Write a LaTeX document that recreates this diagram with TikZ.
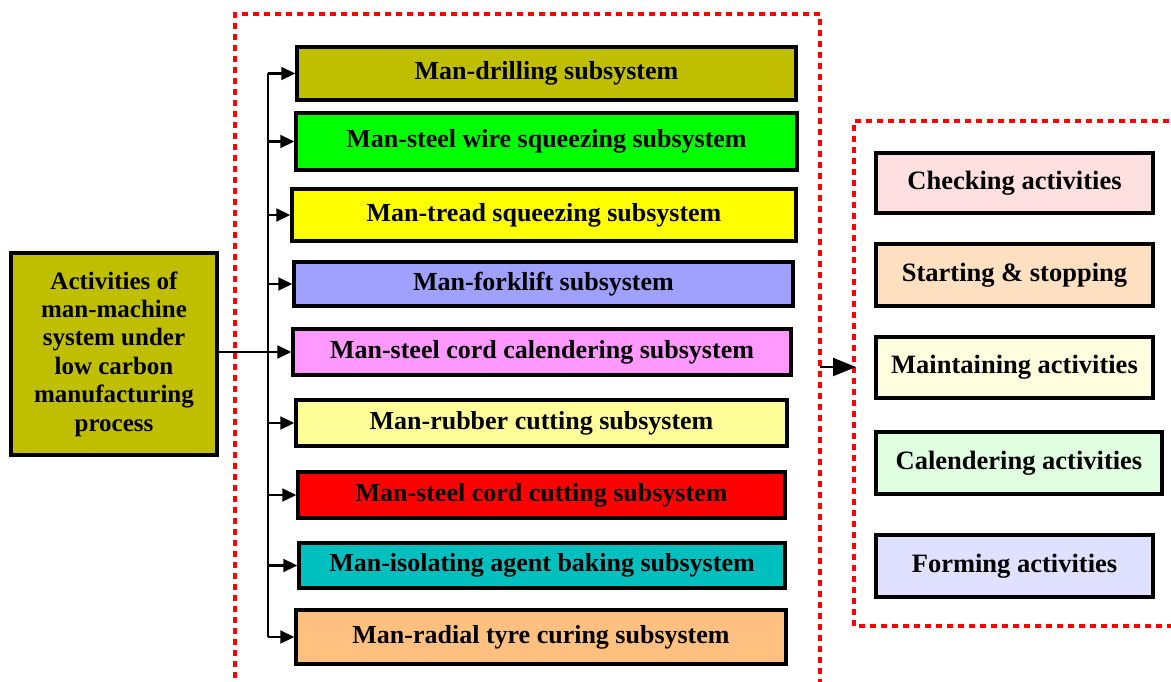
\documentclass[tikz,border=0pt]{standalone}
\usepackage{fontspec}
\setmainfont{Liberation Serif}
\usetikzlibrary{arrows.meta}
\definecolor{olivebox}{HTML}{BFBF00}
\definecolor{greenbox}{HTML}{00FF00}
\definecolor{yellowbox}{HTML}{FFFF00}
\definecolor{bluebox}{HTML}{A0A0FF}
\definecolor{pinkbox}{HTML}{FF99FF}
\definecolor{lyellowbox}{HTML}{FFFF99}
\definecolor{redbox}{HTML}{FF0000}
\definecolor{tealbox}{HTML}{00BFBF}
\definecolor{orangebox}{HTML}{FFC080}
\definecolor{checkbox}{HTML}{FFE0E0}
\definecolor{startbox}{HTML}{FFE0C0}
\definecolor{maintbox}{HTML}{FFFFE0}
\definecolor{calbox}{HTML}{E0FFE0}
\definecolor{formbox}{HTML}{E0E0FF}
\begin{document}
\begin{tikzpicture}[x=1pt,y=-1pt,
  sub/.style={draw=black,line width=3.5pt,inner sep=0pt,font=\fontsize{26}{30}\selectfont\bfseries},
  act/.style={draw=black,line width=3.5pt,inner sep=0pt,font=\fontsize{26.5}{30}\selectfont\bfseries},
  conn/.style={line width=2.2pt,-{Triangle[length=14pt,width=13pt]}},
  bigconn/.style={line width=2.2pt,-{Triangle[length=23pt,width=18pt]}},
  group/.style={draw=red,line width=3.2pt,dash pattern=on 6pt off 5pt}]
\useasboundingbox (0,0) rectangle (1171,682);
% dashed groups
\draw[group] (235,700) -- (235,14) -- (820,14) -- (820,700);
\draw[group] (1180,121) -- (854,121) -- (854,626) -- (1180,626);
% left box
\node[sub,fill=olivebox,minimum width=206pt,minimum height=202pt,align=center,
  font=\fontsize{25}{28.4}\selectfont\bfseries] (src) at (114,354)
  {Activities of\\man-machine\\system under\\low carbon\\manufacturing\\process};
% subsystems
\node[sub,fill=olivebox,minimum width=499pt,minimum height=53pt] (s1) at (546.5,73.5) {Man-drilling subsystem};
\node[sub,fill=greenbox,minimum width=501pt,minimum height=57pt] (s2) at (546.5,141.5) {Man-steel wire squeezing subsystem};
\node[sub,fill=yellowbox,minimum width=504pt,minimum height=52pt] (s3) at (544,215) {Man-tread squeezing subsystem};
\node[sub,fill=bluebox,minimum width=499pt,minimum height=44pt] (s4) at (543.5,284) {Man-forklift subsystem};
\node[sub,fill=pinkbox,minimum width=498pt,minimum height=46pt] (s5) at (542,352) {Man-steel cord calendering subsystem};
\node[sub,fill=lyellowbox,minimum width=491pt,minimum height=46pt] (s6) at (541.5,423) {Man-rubber cutting subsystem};
\node[sub,fill=redbox,minimum width=487pt,minimum height=46pt] (s7) at (541.5,495) {Man-steel cord cutting subsystem};
\node[sub,fill=tealbox,minimum width=486pt,minimum height=45pt] (s8) at (542,565.5) {Man-isolating agent baking subsystem};
\node[sub,fill=orangebox,minimum width=490pt,minimum height=54pt] (s9) at (541,637) {Man-radial tyre curing subsystem};
% activities
\node[act,fill=checkbox,minimum width=277pt,minimum height=60pt] (a1) at (1014.5,183) {Checking activities};
\node[act,fill=startbox,minimum width=277pt,minimum height=62pt] (a2) at (1014.5,275) {Starting \& stopping};
\node[act,fill=maintbox,minimum width=277pt,minimum height=61pt] (a3) at (1014.5,367.5) {Maintaining activities};
\node[act,fill=calbox,minimum width=286pt,minimum height=62pt] (a4) at (1019,463) {Calendering activities};
\node[act,fill=formbox,minimum width=277pt,minimum height=62pt] (a5) at (1014.5,566) {Forming activities};
% trunk
\coordinate (t) at (268,0);
\draw[line width=2.2pt] (t |- s1.west) -- (t |- s9.west);
\foreach \s in {s1,s2,s3,s4,s6,s7,s8,s9}{
  \draw[conn] (t |- \s.west) -- (\s.west);
}
\draw[conn] (src.east |- s5.west) -- (s5.west);
% arrow between groups
\coordinate (g1) at (820,367);
\coordinate (g2) at (856,367);
\draw[bigconn] (g1) -- (g2);
\end{tikzpicture}
\end{document}
